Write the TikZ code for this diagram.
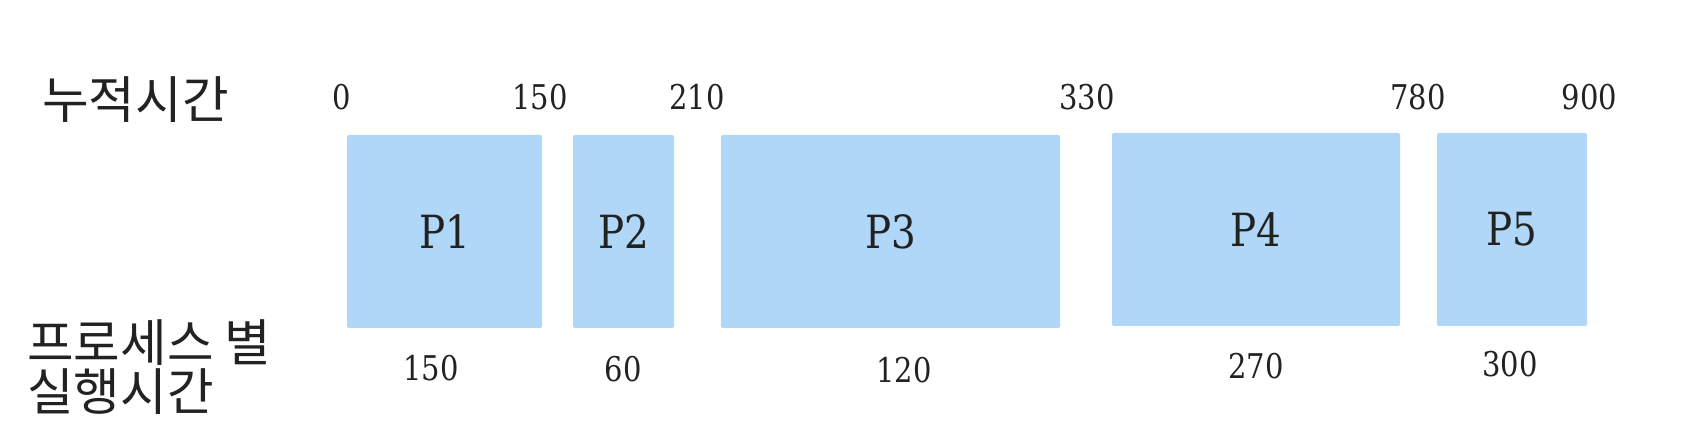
\documentclass[tikz,border=0pt]{standalone}
\usepackage{fontspec}
\usepackage{tikz}
\newfontfamily\krfont{Noto Sans CJK KR}
\newfontfamily\numfont[FakeStretch=0.85]{DejaVu Serif}
\definecolor{ink}{HTML}{222222}
\definecolor{procblue}{HTML}{B0D6F8}
\tikzset{
  proc/.style={fill=procblue, draw=none, rounded corners=0.4mm, inner sep=0pt,
    minimum height=38.6mm, text=ink, font=\numfont\fontsize{26}{26}\selectfont},
  tick/.style={text=ink, inner sep=0pt, font=\numfont\fontsize{19.4}{20}\selectfont},
  head/.style={text=ink, inner sep=0pt, anchor=west, align=left,
    font=\krfont\fontsize{28.8}{27.5}\selectfont},
}

\begin{document}
\begin{tikzpicture}[x=0.2mm, y=-0.2mm]
  \useasboundingbox (0,0) rectangle (1698,440);

  \node[head] (cumul) at (42,100) {누적시간};
  \node[head] (burst) at (27,367) {프로세스 별\\실행시간};

  % process blocks
  \foreach \n/\l/\r/\t in {1/347/542/135, 2/573/674/135, 3/721/1060/135,
                           4/1112/1400/133, 5/1437/1587/133}
    \node[proc, minimum width={(\r-\l)*0.2mm}] (p\n) at ({(\l+\r)/2},{\t+96.5}) {P\n};

  % accumulated time
  \foreach \i/\x/\v in {0/342/0, 1/540/150, 2/697/210, 3/1087/330, 4/1418/780, 5/1589.5/900}
    \node[tick] (t\i) at (\x,97) {\v};

  % time per process
  \foreach \i/\x/\y/\v in {1/431/368/150, 2/623/369/60, 3/904/370/120,
                           4/1256/366/270, 5/1510/364/300}
    \node[tick] (d\i) at (\x,\y) {\v};

\end{tikzpicture}
\end{document}
